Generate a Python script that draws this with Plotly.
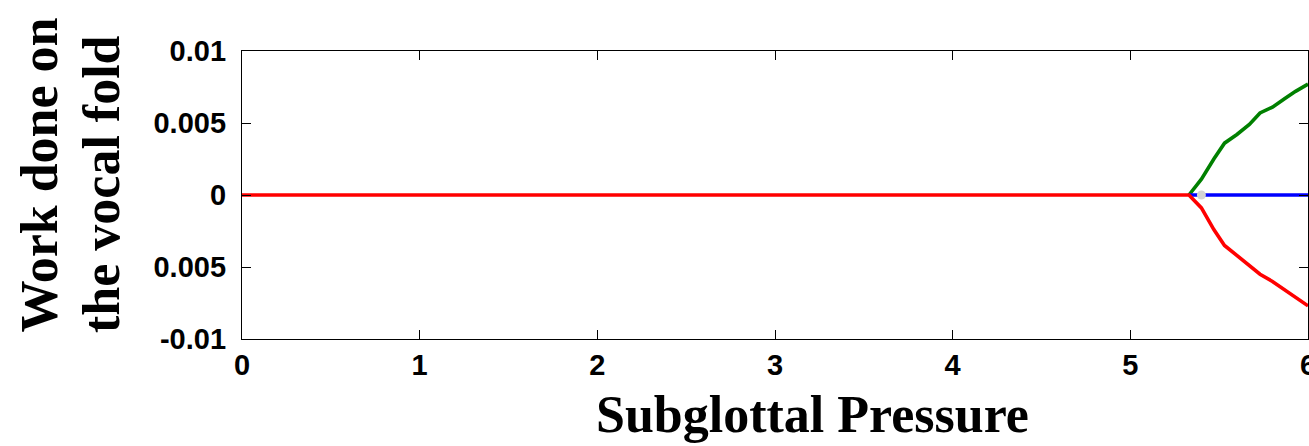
import plotly.graph_objects as go

# Subglottal pressure sweep and work done on the vocal fold
onset_p = [0.0, 5.33]
onset_w = [0.0, 0.0]

branch_p = [5.33, 5.40, 5.47, 5.53, 5.60, 5.67, 5.73, 5.80, 5.87, 5.93, 6.00]
work_pos = [0.0, 0.0011, 0.0025, 0.0036, 0.0042, 0.0049, 0.0057, 0.0061, 0.0067, 0.0072, 0.0077]
work_neg = [0.0, -0.0009, -0.0024, -0.0035, -0.0042, -0.0049, -0.0055, -0.0060, -0.0066, -0.0071, -0.0077]

zero_p = [5.33, 6.00]
zero_w = [0.0, 0.0]

marker_p = [5.40]
marker_w = [0.0]

x_ticks = [0, 1, 2, 3, 4, 5, 6]
y_ticks = [-0.01, -0.005, 0, 0.005, 0.01]
y_tick_text = ["-0.01", "0.005", "0", "0.005", "0.01"]

fig = go.Figure()
fig.add_trace(go.Scatter(x=branch_p, y=work_pos, mode="lines",
                         line=dict(color="#008000", width=3.6)))
fig.add_trace(go.Scatter(x=zero_p, y=zero_w, mode="lines",
                         line=dict(color="#0000ff", width=3.6)))
fig.add_trace(go.Scatter(x=marker_p, y=marker_w, mode="markers",
                         marker=dict(color="#d3d3d3", size=9, line=dict(width=0))))
fig.add_trace(go.Scatter(x=onset_p + branch_p[1:], y=onset_w + work_neg[1:], mode="lines",
                         line=dict(color="#ff0000", width=3.6)))

tick_font = dict(family="Liberation Sans, Arial, sans-serif", size=29, color="black",
                 weight="bold")
title_font = dict(family="Liberation Serif, Times New Roman, serif", size=52, color="black")

fig.update_layout(
    width=1309, height=446,
    margin=dict(l=242, r=1, t=51, b=107),
    paper_bgcolor="white", plot_bgcolor="white",
    showlegend=False,
    xaxis=dict(range=[0, 6], tickvals=x_ticks, ticks="inside", ticklen=9,
               tickcolor="black", tickwidth=1, showline=True, linecolor="black",
               linewidth=1.3, mirror="ticks", showgrid=False, zeroline=False,
               tickfont=tick_font, automargin=False, ticklabeloverflow="allow"),
    yaxis=dict(range=[-0.01, 0.01], tickvals=y_ticks, ticktext=y_tick_text,
               ticks="inside", ticklen=9, tickcolor="black", tickwidth=1,
               showline=True, linecolor="black", linewidth=1.3, mirror="ticks",
               showgrid=False, zeroline=False, tickfont=tick_font, automargin=False,
               ticklabelstandoff=9, ticklabeloverflow="allow"),
    annotations=[
        dict(text="<b>Work done on</b>", textangle=-90, xref="paper", yref="paper",
             x=(39 - 242) / 1066, y=(339 - 335) / 288, xanchor="center", yanchor="bottom",
             showarrow=False, font=title_font),
        dict(text="<b>the vocal fold</b>", textangle=-90, xref="paper", yref="paper",
             x=(101 - 242) / 1066, y=(339 - 335) / 288, xanchor="center", yanchor="bottom",
             showarrow=False, font=title_font),
        dict(text="<b>Subglottal Pressure</b>", xref="paper", yref="paper",
             x=(812 - 242) / 1066, y=(339 - 414) / 288, xanchor="center", yanchor="middle",
             showarrow=False, font=title_font),
    ],
)

fig.write_html("out.html")
